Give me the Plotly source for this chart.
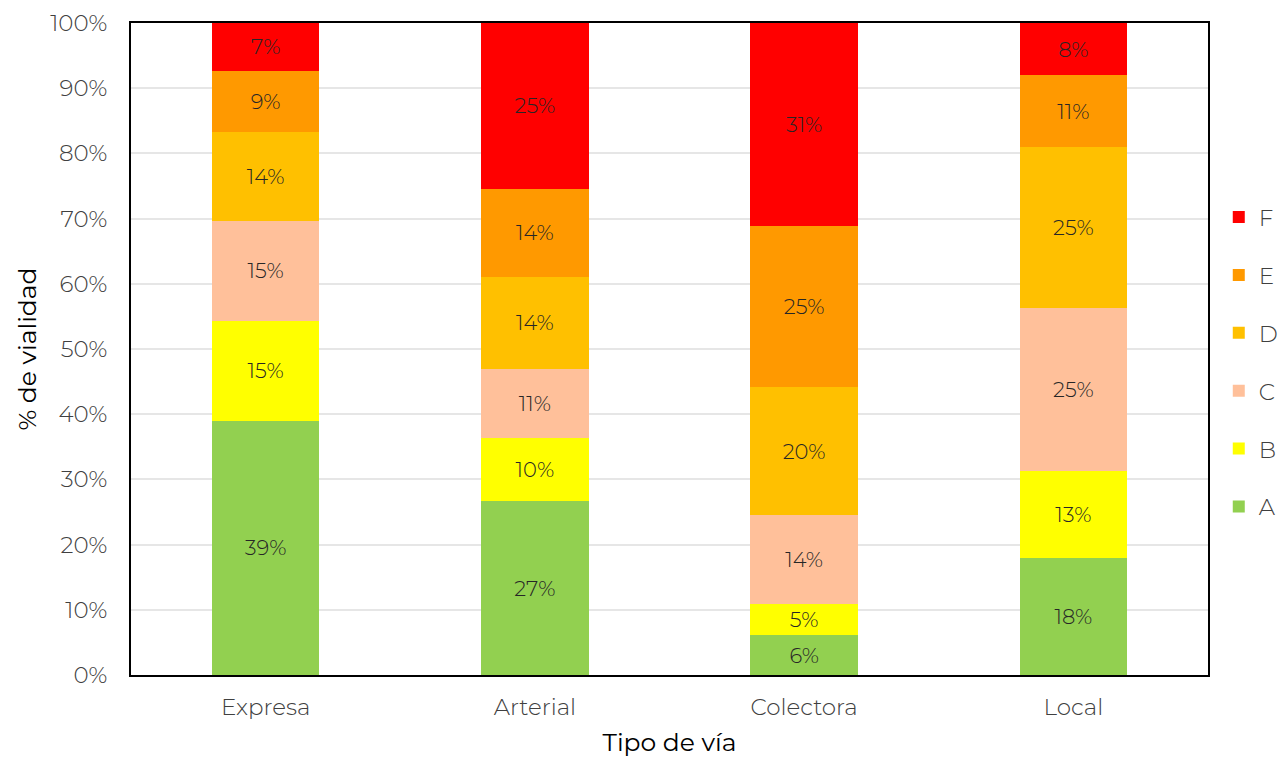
import plotly.graph_objects as go

# Tipo de vía y proporción de vialidad por nivel de servicio (%)
categorias = ["Expresa", "Arterial", "Colectora", "Local"]
niveles = ["A", "B", "C", "D", "E", "F"]
valores = {
    "A": [39.0, 26.7, 6.1, 17.9],
    "B": [15.3, 9.7, 4.8, 13.4],
    "C": [15.4, 10.6, 13.6, 25.0],
    "D": [13.6, 14.1, 19.7, 24.7],
    "E": [9.4, 13.5, 24.6, 11.0],
    "F": [7.3, 25.4, 31.2, 8.0],
}
colores = {
    "A": "#92d050",
    "B": "#ffff00",
    "C": "#ffc09a",
    "D": "#ffc000",
    "E": "#ff9900",
    "F": "#ff0000",
}

FONT = "Montserrat, Lato, 'Open Sans', sans-serif"

fig = go.Figure()
for i, nivel in enumerate(niveles):
    fig.add_trace(go.Bar(
        x=categorias,
        y=[v / 100 for v in valores[nivel]],
        name=nivel,
        legendgroup=nivel,
        legendrank=len(niveles) - i,
        marker=dict(color=colores[nivel], line=dict(width=0)),
        text=[f"{round(v):.0f}%" for v in valores[nivel]],
        textposition="inside",
        insidetextanchor="middle",
        textangle=0,
        textfont=dict(family=FONT, size=25, color="#262626", weight=300),
        hoverinfo="skip",
    ))

# la página tiene 8px de margen en el body -> se descuentan aquí
fig.update_layout(
    barmode="stack",
    bargap=0.6,
    width=1278,
    height=749,
    margin=dict(l=123, r=78, t=15, b=82, autoexpand=False),
    plot_bgcolor="white",
    paper_bgcolor="white",
    font=dict(family=FONT, size=23, color="#404040", weight=300),
    uniformtext=dict(minsize=10, mode="show"),
    legend=dict(
        x=1.01, y=0.48, xanchor="left", yanchor="middle",
        traceorder="grouped",
        tracegroupgap=25,
        font=dict(family=FONT, size=23, color="#404040", weight=300),
        itemwidth=30,
    ),
    xaxis=dict(
        title=dict(text="Tipo de vía", font=dict(size=25, color="black", weight=400), standoff=18),
        showline=True, linecolor="black", linewidth=2, mirror=True,
        ticks="", ticklabelstandoff=10,
    ),
    yaxis=dict(
        title=dict(text="% de vialidad", font=dict(size=25, color="black", weight=400), standoff=6),
        range=[0, 1], tickformat=".0%", dtick=0.1,
        showline=True, linecolor="black", linewidth=2, mirror=True,
        showgrid=True, gridcolor="#e6e6e6", gridwidth=2,
        ticks="", ticklabelstandoff=17,
    ),
)

fig.write_html("out.html")
